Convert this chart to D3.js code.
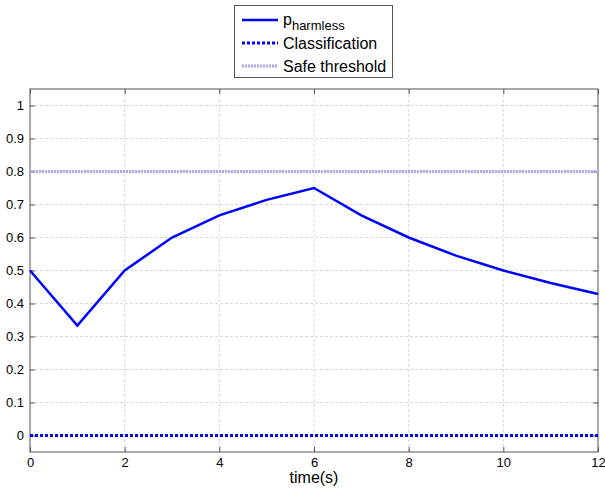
<!DOCTYPE html>
<html>
<head>
<meta charset="utf-8">
<script src="https://cdnjs.cloudflare.com/ajax/libs/d3/7.8.5/d3.min.js"></script>
<style>
  body { margin: 0; background: #fff; }
  text { font-family: 'Liberation Sans', Arial, sans-serif; fill: #000; }
  .tick text { font-size: 13px; font-family: 'Liberation Sans', Arial, sans-serif; }
  .grid line { stroke: #d9d9d9; stroke-dasharray: 3,2; }
</style>
</head>
<body>
<div id="viz"></div>
<script>
// data
var times = [0, 1, 2, 3, 4, 5, 6, 7, 8, 9, 10, 11, 12];
var pHarmless = [0.5, 0.333, 0.5, 0.6, 0.667, 0.714, 0.75, 0.667, 0.6, 0.545, 0.5, 0.462, 0.429];
var classification = [0, 0, 0, 0, 0, 0, 0, 0, 0, 0, 0, 0, 0];
var safeThreshold = [0.8, 0.8, 0.8, 0.8, 0.8, 0.8, 0.8, 0.8, 0.8, 0.8, 0.8, 0.8, 0.8];
var xTicks = [0, 2, 4, 6, 8, 10, 12];
var yTicks = [0, 0.1, 0.2, 0.3, 0.4, 0.5, 0.6, 0.7, 0.8, 0.9, 1];

var width = 605, height = 488;
var plotL = 30, plotR = 598, plotT = 89, plotB = 452;

var svg = d3.select("#viz").append("svg")
  .attr("width", width)
  .attr("height", height);

var x = d3.scaleLinear().domain([0, 12]).range([plotL, plotR]);
var y = d3.scaleLinear().domain([-0.05, 1.05]).range([plotB, plotT]);

// grid
var grid = svg.append("g").attr("class", "grid");
grid.selectAll(".gx").data(xTicks.slice(1, -1)).enter().append("line")
  .attr("x1", function(d) { return x(d); }).attr("x2", function(d) { return x(d); })
  .attr("y1", plotT).attr("y2", plotB);
grid.selectAll(".gy").data(yTicks).enter().append("line")
  .attr("x1", plotL).attr("x2", plotR)
  .attr("y1", function(d) { return y(d); }).attr("y2", function(d) { return y(d); });

// axes, matlab style ticks pointing in
var fmt = function(d) { return d3.format("~g")(d); };
svg.append("g").attr("transform", "translate(0," + plotB + ")")
  .call(d3.axisBottom(x).tickValues(xTicks).tickSize(-5).tickPadding(6).tickFormat(fmt));
svg.append("g").attr("transform", "translate(" + plotL + ",0)")
  .call(d3.axisLeft(y).tickValues(yTicks).tickSize(-5).tickPadding(6).tickFormat(fmt));
svg.append("g").attr("transform", "translate(0," + plotT + ")")
  .call(d3.axisTop(x).tickValues(xTicks).tickSize(-5).tickFormat(""));
svg.append("g").attr("transform", "translate(" + plotR + ",0)")
  .call(d3.axisRight(y).tickValues(yTicks).tickSize(-5).tickFormat(""));
svg.selectAll(".domain").remove();
svg.selectAll(".tick line").attr("stroke", "#555");

svg.append("rect")
  .attr("x", plotL).attr("y", plotT)
  .attr("width", plotR - plotL).attr("height", plotB - plotT)
  .attr("fill", "none").attr("stroke", "#555").attr("stroke-width", 1);

var line = d3.line()
  .x(function(d, i) { return x(times[i]); })
  .y(function(d) { return y(d); });

svg.append("path").datum(safeThreshold)
  .attr("d", line).attr("fill", "none")
  .attr("stroke", "#a8a8f4").attr("stroke-width", 3).attr("stroke-dasharray", "2,1");

svg.append("path").datum(classification)
  .attr("d", line).attr("fill", "none")
  .attr("stroke", "#0000ff").attr("stroke-width", 3).attr("stroke-dasharray", "3,2");

svg.append("path").datum(pHarmless)
  .attr("d", line).attr("fill", "none")
  .attr("stroke", "#0000ff").attr("stroke-width", 2.5)
  .attr("stroke-linejoin", "miter");

// x label
svg.append("text")
  .attr("x", (plotL + plotR) / 2).attr("y", 483)
  .attr("text-anchor", "middle")
  .style("font-size", "16px")
  .text("time(s)");

// legend
var legend = svg.append("g");
legend.append("rect")
  .attr("x", 234.5).attr("y", 5.5).attr("width", 158).attr("height", 72)
  .attr("fill", "#fff").attr("stroke", "#555");
var items = [
  { stroke: "#0000ff", dash: null, w: 2.5 },
  { stroke: "#0000ff", dash: "3,2", w: 3 },
  { stroke: "#a8a8f4", dash: "2,1", w: 3 }
];
var rowY = [20, 43, 66];
items.forEach(function(it, i) {
  legend.append("line")
    .attr("x1", 242).attr("x2", 278)
    .attr("y1", rowY[i]).attr("y2", rowY[i])
    .attr("stroke", it.stroke).attr("stroke-width", it.w)
    .attr("stroke-dasharray", it.dash);
});
var t0 = legend.append("text").attr("x", 283).attr("y", rowY[0] + 5).style("font-size", "16px");
t0.append("tspan").text("p");
t0.append("tspan").attr("dy", 5).style("font-size", "13px").text("harmless");
legend.append("text").attr("x", 283).attr("y", rowY[1] + 6).style("font-size", "16px").text("Classification");
legend.append("text").attr("x", 283).attr("y", rowY[2] + 6).style("font-size", "16px").text("Safe threshold");
</script>
</body>
</html>
